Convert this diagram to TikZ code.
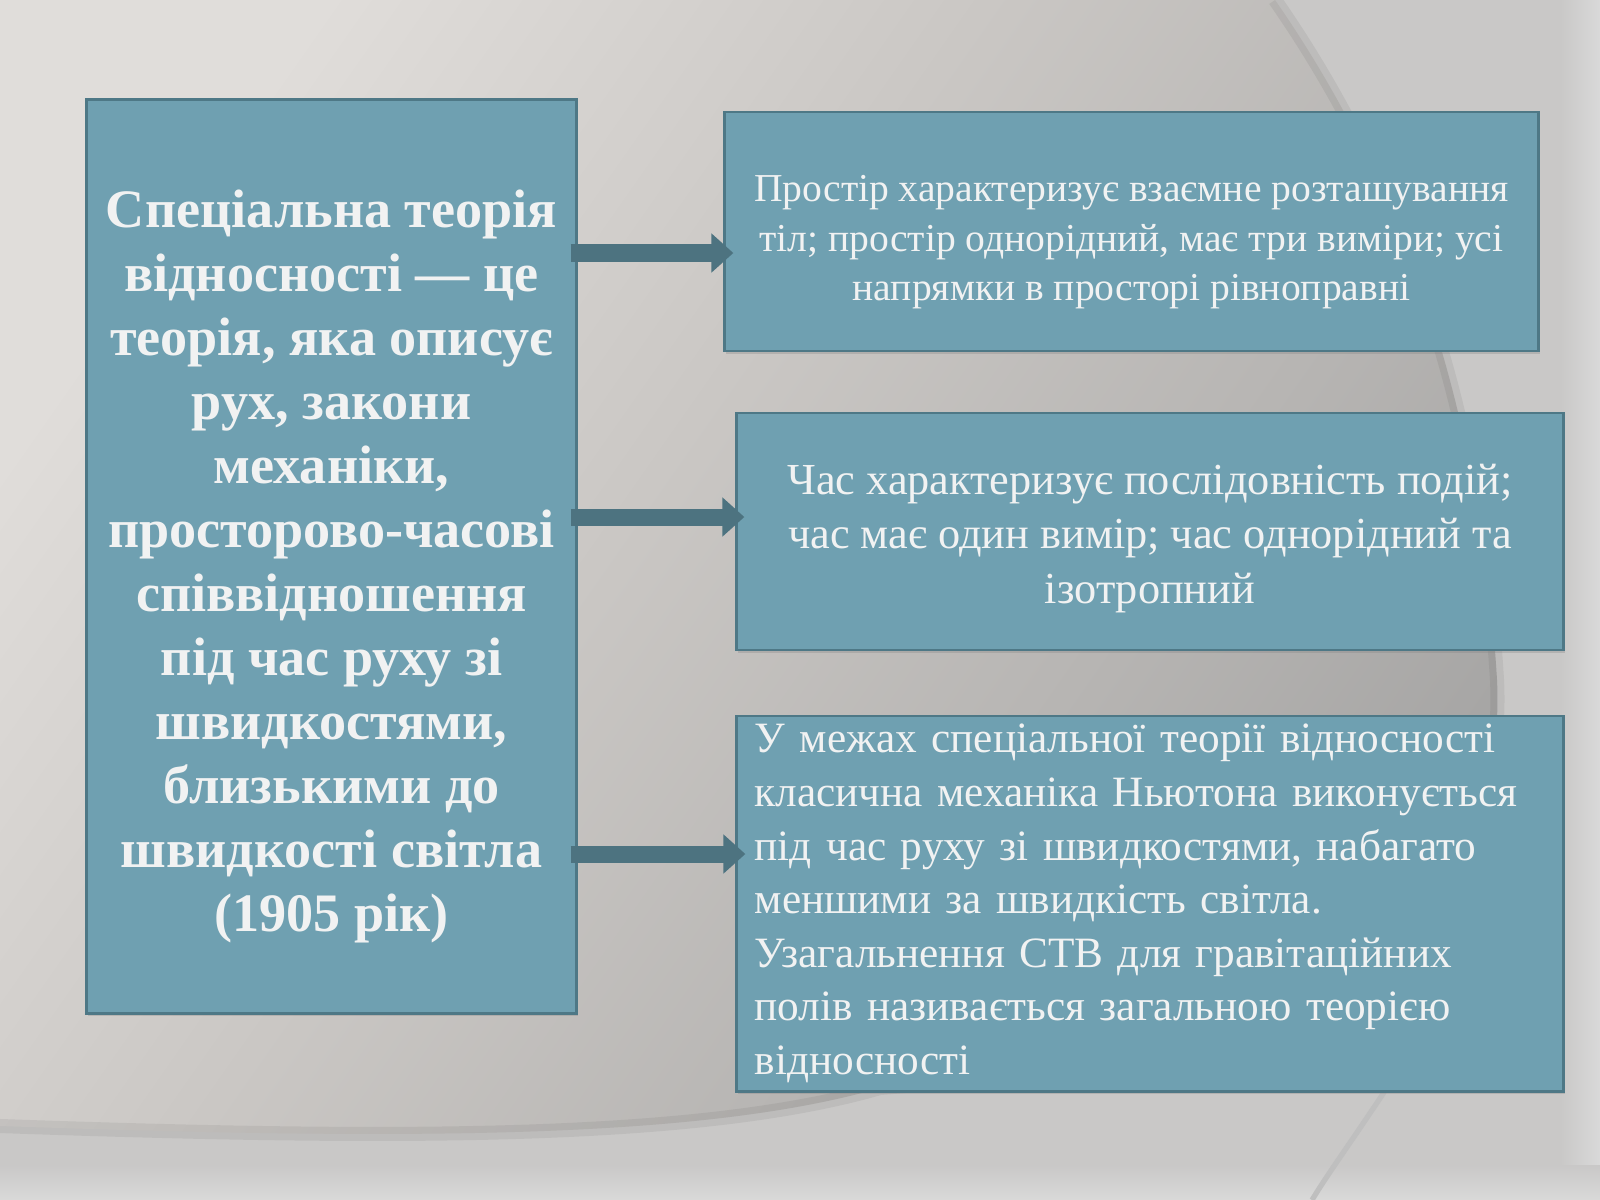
\documentclass[tikz,border=0pt]{standalone}
\usepackage{fontspec}
\setmainfont{Liberation Serif}
\usepackage{xcolor}
\usetikzlibrary{arrows.meta, positioning, shadows}
\definecolor{boxfill}{HTML}{6FA0B1}
\definecolor{boxedge}{HTML}{4E7886}
\definecolor{arrowcol}{HTML}{4D7380}
\definecolor{boxtext}{HTML}{F1F2F2}
\definecolor{bgA}{HTML}{E0DDDA}
\definecolor{bgB}{HTML}{CAC7C4}
\definecolor{bgC}{HTML}{B7B5B3}
\definecolor{bgD}{HTML}{A7A6A5}
\definecolor{bgLight}{HTML}{C9C8C7}
\definecolor{bgEdge}{HTML}{D9D9D9}
\pgfdeclarehorizontalshading{slideshade}{100bp}{color(0bp)=(bgA); color(25bp)=(bgA); color(45bp)=(bgB); color(62bp)=(bgC); color(75bp)=(bgD); color(100bp)=(bgD)}
\tikzstyle{mainbox} = [rectangle, draw=boxedge, line width=0.8pt, fill=boxfill, text=boxtext, align=center, minimum width=4.89cm, minimum height=9.13cm, drop shadow={shadow xshift=0.4pt, shadow yshift=-0.7pt, opacity=0.3}, font=\fontsize{15.4}{18.2}\selectfont\bfseries]
\tikzstyle{infobox} = [rectangle, draw=boxedge, line width=0.8pt, fill=boxfill, text=boxtext, align=center, minimum width=8.26cm, minimum height=2.37cm, drop shadow={shadow xshift=0.4pt, shadow yshift=-0.7pt, opacity=0.3}]
\tikzstyle{line} = [draw=arrowcol, line width=0.17cm, -{Triangle[length=0.22cm, width=0.38cm]}]

\begin{document}
\begin{tikzpicture}[x=0.01cm, y=-0.01cm]
    \useasboundingbox (0,0) rectangle (1600,1200);
    % Background
    \fill[bgLight] (0,0) rectangle (1600,1200);
    \shade[left color=bgLight, right color=bgEdge] (1560,0) rectangle (1600,1200);
    \shade[top color=bgLight, bottom color=bgEdge] (0,1165) rectangle (1600,1200);
    \draw[black!25, line width=1.5pt] (1405,1060) .. controls (1360,1130) and (1330,1170) .. (1312,1200);
    \shade[shading=slideshade, shading angle=-35] (0,0) -- (1275,0) .. controls (1400,180) and (1480,400) .. (1497,680)
        .. controls (1510,950) and (1250,1060) .. (880,1088) .. controls (700,1140) and (400,1140) .. (0,1126) -- cycle;
    \draw[black, opacity=0.06, line width=4pt] (1275,0) .. controls (1400,180) and (1480,400) .. (1497,680)
        .. controls (1510,950) and (1250,1060) .. (880,1088) .. controls (700,1140) and (400,1140) .. (0,1126);

    % Nodes
    \node [mainbox] (stv) at (331.5,556.5) {\rule{0pt}{16.5pt}Спеціальна теорія\\відносності — це\\теорія, яка описує\\рух, закони\\механіки,\\просторово-часові\\співвідношення\\під час руху зі\\швидкостями,\\близькими до\\швидкості світла\\(1905 рік)};
    \node [infobox, minimum width=8.13cm, minimum height=2.39cm, font=\fontsize{11.25}{13.95}\selectfont] (space) at (1131.5,231.5) {\rule{0pt}{13.5pt}Простір характеризує взаємне розташування\\тіл; простір однорідний, має три виміри; усі\\напрямки в просторі рівноправні};
    \node [infobox, font=\fontsize{12.6}{15.5}\selectfont] (time) at (1150,531.5) {\rule{0pt}{12.5pt}Час характеризує послідовність подій;\\час має один вимір; час однорідний та\\ізотропний};
    \node [infobox, below=0.63cm of time, minimum height=3.75cm, inner ysep=1pt, text width=7.9cm, align=left, font=\fontsize{12.3}{15.25}\selectfont] (limits) {У межах спеціальної теорії відносності\\класична механіка Ньютона виконується\\під час руху зі швидкостями, набагато\\меншими за швидкість світла.\\Узагальнення СТВ для гравітаційних\\полів називається загальною теорією\\відносності};

    % Lines
    \coordinate (a1) at (0,253);
    \coordinate (a2) at (0,517);
    \coordinate (a3) at (0,854);
    \path [line] ([xshift=-0.07cm]stv.east |- a1) -- ([xshift=0.1cm]space.west |- a1);
    \path [line] ([xshift=-0.07cm]stv.east |- a2) -- ([xshift=0.09cm]time.west |- a2);
    \path [line] ([xshift=-0.07cm]stv.east |- a3) -- ([xshift=0.1cm]limits.west |- a3);
\end{tikzpicture}
\end{document}
